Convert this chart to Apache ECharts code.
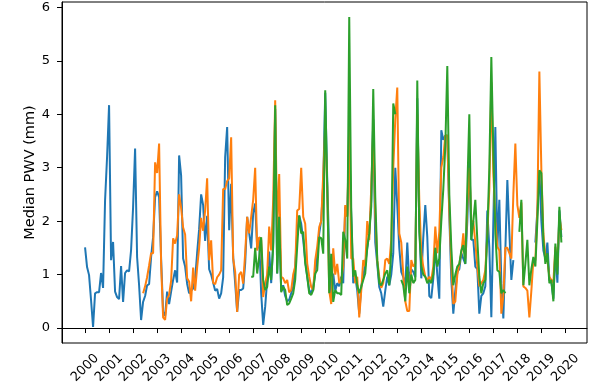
<!DOCTYPE html>
<html>
<head>
<meta charset="UTF-8">
<title>Median PWV</title>
<script src="https://cdn.jsdelivr.net/npm/echarts@6/dist/echarts.min.js"></script>
</head>
<body style="margin:0; background:#fff;">
<div id="main" style="width:592px; height:390px;"></div>
<script>
// tick labels
const yearTicks = [2000, 2001, 2002, 2003, 2004, 2005, 2006, 2007, 2008, 2009, 2010,
  2011, 2012, 2013, 2014, 2015, 2016, 2017, 2018, 2019, 2020];
const pwvTicks = [0, 1, 2, 3, 4, 5, 6];

// monthly medians, start = month index of first value (0 = Jan 2000)
const blueStart = 0;
const blueValues = [
  1.51, 1.14, 0.99, 0.52, 0.02, 0.65, 0.67, 0.67, 1.03, 0.75, 2.39, 3.2,
  4.17, 1.27, 1.61, 0.68, 0.58, 0.54, 1.16, 0.49, 1.03, 1.08, 1.06, 1.46,
  2.26, 3.36, 1.33, 0.8, 0.15, 0.49, 0.6, 0.8, 0.82, 1.33, 1.7, 2.45,
  2.56, 2.45, 1.3, 0.3, 0.23, 0.68, 0.45, 0.68, 0.9, 1.08, 0.85, 3.23,
  2.85, 1.3, 1.15, 0.83, 0.65, 0.7, 0.74, 0.92, 1.4, 1.85, 2.5, 2.3,
  1.63, 2.1, 1.1, 1.0, 0.85, 0.7, 0.73, 0.55, 0.65, 0.95, 3.2, 3.76,
  1.83, 2.7, 1.33, 0.84, 0.3, 0.71, 0.71, 0.74, 1.21, 2.08, 1.78, 1.49,
  2.15, 2.33, 1.48, 1.66, 0.65, 0.06, 0.4, 0.9, 1.43, 0.84, 1.6, 4.1,
  1.02, 2.08, 0.7, 0.8, 0.6, 0.5, 0.53, 0.65, 0.77, 1.15, 1.8, 2.1,
  1.95, 1.65, 1.27, 0.96, 0.71, 0.65, 0.77, 1.02, 1.39, 1.77, 2.02, 2.7,
  4.4, 2.77, 1.4, 0.52, 1.02, 0.7, 0.84, 0.78, 0.96, 0.84, 2.27, 2.1,
  3.5, 2.1, 0.84, 0.96, 0.7, 0.27, 0.78, 0.96, 1.2, 1.5, 1.77, 2.4,
  3.9, 1.6, 1.2, 0.77, 0.65, 0.4, 0.7, 0.96, 0.8, 1.0, 1.4, 3.0,
  2.3, 1.5, 1.05, 0.95, 0.78, 1.6, 0.85, 1.1, 1.05, 0.95, 4.3, 2.0,
  0.93, 1.7, 2.3, 1.7, 0.6, 0.56, 0.93, 1.5, 1.0, 0.55, 3.7, 3.52,
  3.6, 3.6, 2.1, 0.9, 0.27, 0.7, 1.05, 1.1, 1.4, 1.3, 1.2, 2.0,
  3.2, 1.65, 1.65, 1.15, 1.1, 0.27, 0.6, 0.65, 0.78, 2.2, 1.5, 0.2,
  2.0, 3.76, 1.5, 2.4, 0.84, 0.18, 1.45, 2.77, 1.8, 0.9, 1.27, null,
  null, null, null, null, null, null, null, null, null, 1.6, 2.2, 2.95,
  2.0, 1.45, 1.3, 1.6, 0.9, 0.85, 0.55, 1.45, 0.85, 2.2, 1.7
];

const orangeStart = 29;
const orangeValues = [
  0.65, 0.78, 0.95, 1.17, 1.4, 1.4, 3.1,
  2.9, 3.45, 1.2, 0.2, 0.15, 0.55, 0.62, 0.88, 1.68, 1.58, 1.73, 2.5,
  2.25, 1.88, 1.75, 0.93, 0.87, 0.5, 1.13, 0.7, 1.13, 1.5, 2.06, 1.82,
  2.2, 2.8, 1.27, 1.64, 0.85, 0.82, 0.95, 1.0, 1.08, 2.6, 2.6, 2.75,
  2.8, 3.57, 1.3, 1.05, 0.3, 1.0, 1.05, 0.83, 1.4, 2.08, 1.77, 2.08,
  2.4, 3.0, 1.45, 1.7, 1.65, 0.58, 0.84, 1.0, 1.9, 1.45, 2.4, 4.26,
  1.8, 2.88, 0.96, 0.93, 0.84, 0.9, 0.67, 0.71, 1.0, 1.15, 2.2, 2.23,
  3.0, 2.08, 1.95, 1.21, 0.96, 0.77, 0.71, 1.27, 1.52, 1.89, 2.0, 2.88,
  3.76, 2.64, 0.7, 0.45, 1.49, 1.0, 1.2, 0.84, 0.9, 1.15, 2.3, 2.08,
  3.8, 1.3, 1.3, 0.84, 0.96, 0.2, 0.7, 1.27, 1.15, 2.0, 1.65, 2.64,
  3.7, 2.15, 1.27, 0.96, 0.75, 0.84, 1.27, 1.3, 1.2, 1.65, 3.0, 3.9,
  4.5, 1.77, 1.6, 1.0, 0.5, 0.32, 0.32, 1.27, 1.15, 1.2, 4.0, 2.4,
  1.4, 1.15, 0.96, 0.9, 0.96, 0.9, 1.15, 1.9, 1.4, 1.8, 3.0, 3.2,
  3.6, 3.6, 2.2, 1.2, 0.45, 0.5, 1.0, 1.2, 1.4, 1.77, 1.3, 2.3,
  3.0, 2.0, 2.0, 1.6, 1.15, 0.78, 0.84, 0.9, 1.08, 1.77, 2.6, 4.6,
  2.9, 2.0, 1.52, 1.45, 0.27, 0.6, 1.5, 1.5, 1.4, 1.3, 2.5, 3.45,
  2.3, 2.06, 2.35, 0.78, 0.75, 0.7, 0.2, 0.7, 1.27, 1.27, 2.2, 4.8,
  2.95, 1.77, 1.33, 1.27, 0.96, 0.9, 0.85, 1.52, 1.15, 2.08, 1.83
];

const greenStart = 83;
const greenValues = [
  0.96,
  0.96, 1.5, 1.02, 1.33, 1.7, 0.9, 0.71, 0.77, 1.15, 0.9, 1.52, 4.17,
  1.02, 2.08, 0.67, 0.77, 0.71, 0.43, 0.46, 0.55, 0.65, 0.9, 1.52, 2.11,
  1.77, 1.8, 1.21, 0.96, 0.65, 0.62, 0.71, 1.02, 1.08, 1.7, 1.68, 1.39,
  4.45, 2.64, 0.65, 1.39, 0.49, 0.71, 0.65, 0.65, 0.62, 1.8, 1.65, 1.3,
  5.82, 2.2, 0.96, 1.08, 0.8, 0.65, 0.77, 0.9, 1.02, 1.5, 1.77, 2.27,
  4.47, 2.45, 1.27, 0.84, 0.8, 0.9, 1.02, 1.08, 0.8, 1.45, 4.2, 4.0,
  null, null, 0.9, 0.8, 0.5, 1.15, 0.65, 1.0, 0.84, 0.9, 4.63, 1.8,
  1.15, 1.0, 0.96, 0.84, 0.9, 0.84, 1.0, 1.5, 1.15, 1.3, 2.0, 2.6,
  3.4, 4.9, 2.5, 1.5, 0.8, 1.0, 1.15, 1.2, 1.45, 1.55, 1.2, 2.6,
  4.0, 1.65, 2.0, 2.4, 1.65, 0.96, 0.65, 0.84, 0.9, 1.77, 3.0, 5.07,
  3.3, 1.77, 1.08, 1.05, 0.65, 0.71, 0.65, null, null, null, null, null,
  null, 1.8, 2.4, 0.8, 1.2, 1.65, 0.8, 1.1, 1.33, 1.15, 2.0, 2.95,
  2.9, 1.65, 1.2, 1.4, 0.84, 0.9, 0.5, 1.58, 1.0, 2.27, 1.6
];

function toPoints(values, start) {
  return values.map(function (v, k) {
    return [2000 + (start + k) / 12, v === null ? '-' : v];
  });
}

const chart = echarts.init(document.getElementById('main'));
const font = 'DejaVu Sans';

function lineSeries(values, start, color) {
  return {
    type: 'line',
    data: toPoints(values, start),
    showSymbol: false,
    connectNulls: false,
    lineStyle: { color: color, width: 2 },
    itemStyle: { color: color },
    animation: false
  };
}

chart.setOption({
  animation: false,
  grid: {
    left: 62, right: 5, top: 2, bottom: 47,
    show: true, borderColor: '#000', borderWidth: 1, backgroundColor: '#fff'
  },
  xAxis: {
    type: 'value',
    min: 1999.04,
    max: 2020.9,
    splitLine: { show: false },
    axisLine: { show: true, lineStyle: { color: '#000', width: 1 } },
    axisTick: { show: true, customValues: yearTicks, length: 5, lineStyle: { color: '#000' } },
    axisLabel: {
      customValues: yearTicks,
      formatter: function (v) { return String(v); },
      rotate: 45,
      align: 'center',
      verticalAlign: 'middle',
      margin: 25,
      color: '#000',
      fontSize: 13,
      fontFamily: font
    }
  },
  yAxis: {
    type: 'value',
    min: -0.28,
    max: 6.1,
    name: 'Median PWV (mm)',
    nameLocation: 'middle',
    nameGap: 24,
    nameMoveOverlap: false,
    nameTextStyle: { color: '#000', fontSize: 14.5, fontFamily: font },
    splitLine: { show: false },
    axisLine: { show: true, lineStyle: { color: '#000', width: 1 } },
    axisTick: { show: true, customValues: pwvTicks, length: 5, lineStyle: { color: '#000' } },
    axisLabel: {
      customValues: pwvTicks,
      margin: 12,
      color: '#000',
      fontSize: 13,
      fontFamily: font
    }
  },
  series: [
    lineSeries(blueValues, blueStart, '#1f77b4'),
    lineSeries(orangeValues, orangeStart, '#ff7f0e'),
    lineSeries(greenValues, greenStart, '#2ca02c')
  ]
});
</script>
</body>
</html>
